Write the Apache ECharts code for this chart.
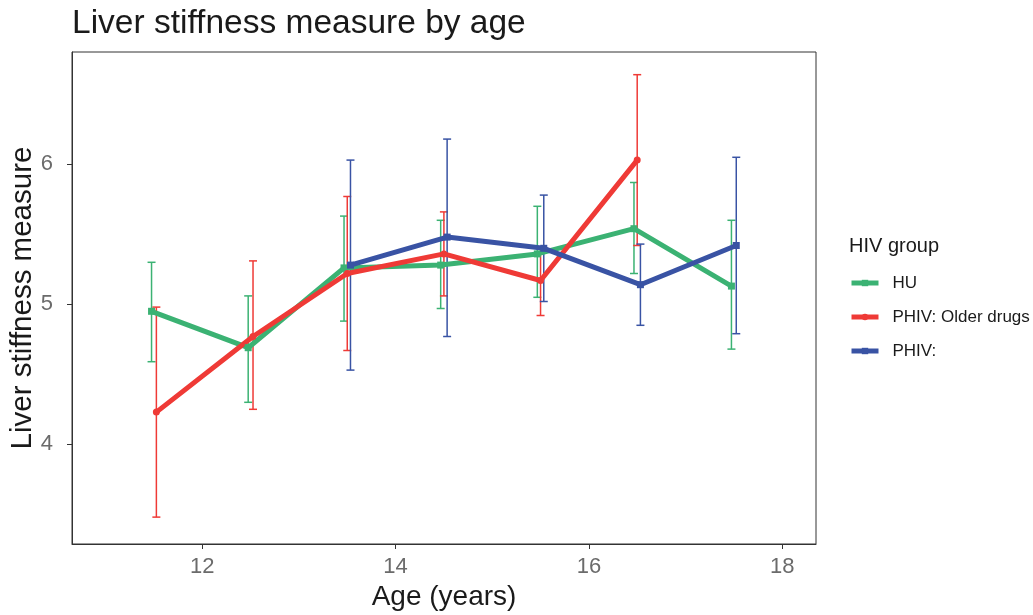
<!DOCTYPE html>
<html>
<head>
<meta charset="utf-8">
<script src="https://cdn.jsdelivr.net/npm/echarts@6/dist/echarts.min.js"></script>
<style>
html,body{margin:0;padding:0;background:#fff;}
#chart{width:1033px;height:615px;}
</style>
</head>
<body>
<div id="chart"></div>
<script>
// ---- Data ----
const ages = [11.5, 12.5, 13.5, 14.5, 15.5, 16.5, 17.5];
const groupNames = ['HU', 'PHIV: Older drugs', 'PHIV:'];
const huMean   = [4.95, 4.69, 5.26, 5.28, 5.36, 5.54, 5.13];
const huLow    = [4.59, 4.30, 4.88, 4.97, 5.05, 5.22, 4.68];
const huHigh   = [5.30, 5.06, 5.63, 5.60, 5.70, 5.87, 5.60];
const oldMean  = [4.23, 4.77, 5.22, 5.36, 5.17, 6.03, null];
const oldLow   = [3.48, 4.25, 4.67, 5.06, 4.92, 5.42, null];
const oldHigh  = [4.98, 5.31, 5.77, 5.66, 5.40, 6.64, null];
const phivMean = [null, null, 5.28, 5.48, 5.40, 5.14, 5.42];
const phivLow  = [null, null, 4.53, 4.77, 5.02, 4.85, 4.79];
const phivHigh = [null, null, 6.03, 6.18, 5.78, 5.43, 6.05];
const xTicks = [12, 14, 16, 18];
const yTicks = [4, 5, 6];

const colors = ['#3BB273', '#EF3A36', '#3953A4'];
const symbols = ['rect', 'circle', 'rect'];
const means = [huMean, oldMean, phivMean];
const lows = [huLow, oldLow, phivLow];
const highs = [huHigh, oldHigh, phivHigh];

// position dodge (width 0.1) like the original
const dodgeWidth = 0.1;
function dodgedX(gi, ai) {
  const present = [];
  for (let g = 0; g < means.length; g++) if (means[g][ai] != null) present.push(g);
  const n = present.length;
  const k = present.indexOf(gi);
  return ages[ai] + (k - (n - 1) / 2) * dodgeWidth / n;
}

const FONT = 'Liberation Sans, Arial, sans-serif';
const series = [];
// error bars first
for (let g = 0; g < 3; g++) {
  const data = [];
  ages.forEach((a, i) => {
    if (means[g][i] != null) data.push([dodgedX(g, i), lows[g][i], highs[g][i]]);
  });
  series.push({
    type: 'custom',
    name: 'errorbar ' + groupNames[g],
    data: data,
    z: 2,
    silent: true,
    itemStyle: {color: colors[g]},
    encode: {x: 0, y: [1, 2]},
    renderItem: function (params, api) {
      const x = api.value(0);
      const lo = api.coord([x, api.value(1)]);
      const hi = api.coord([x, api.value(2)]);
      const hw = 4;
      const st = {stroke: colors[g], lineWidth: 1.5};
      return {
        type: 'group',
        children: [
          {type: 'line', shape: {x1: lo[0], y1: lo[1], x2: hi[0], y2: hi[1]}, style: st},
          {type: 'line', shape: {x1: lo[0] - hw, y1: lo[1], x2: lo[0] + hw, y2: lo[1]}, style: st},
          {type: 'line', shape: {x1: hi[0] - hw, y1: hi[1], x2: hi[0] + hw, y2: hi[1]}, style: st}
        ]
      };
    }
  });
}
for (let g = 0; g < 3; g++) {
  const data = [];
  ages.forEach((a, i) => {
    if (means[g][i] != null) data.push([dodgedX(g, i), means[g][i]]);
  });
  series.push({
    type: 'line',
    name: groupNames[g],
    data: data,
    z: 3,
    symbol: symbols[g],
    symbolSize: 7,
    showSymbol: true,
    lineStyle: {color: colors[g], width: 5},
    itemStyle: {color: colors[g]},
    emphasis: {disabled: true},
    animation: false
  });
}

const chart = echarts.init(document.getElementById('chart'), null, {renderer: 'canvas'});
chart.setOption({
  animation: false,
  backgroundColor: '#ffffff',
  title: [
    {text: 'Liver stiffness measure by age', left: 67, top: 2,
     textStyle: {fontFamily: FONT, fontSize: 33.5, fontWeight: 'normal', color: '#1a1a1a'}},
    {text: 'HIV group', left: 844, top: 231,
     textStyle: {fontFamily: FONT, fontSize: 20, fontWeight: 'normal', color: '#1a1a1a'}}
  ],
  legend: {
    data: groupNames.map((n) => ({name: n})),
    orient: 'vertical',
    left: 844,
    top: 268,
    itemWidth: 27,
    itemHeight: 8,
    itemGap: 14,
    lineStyle: {width: 5},
    textStyle: {fontFamily: FONT, fontSize: 17, color: '#1a1a1a', lineHeight: 20, padding: [0, 0, 0, 9]},
    selectedMode: false
  },
  grid: {left: 72, right: 217, top: 52, bottom: 71, outerBoundsMode: 'none', show: true, borderColor: '#333333', borderWidth: 1, backgroundColor: 'transparent'},
  xAxis: {
    type: 'value',
    min: 10.652,
    max: 18.35,
    name: 'Age (years)',
    nameLocation: 'middle',
    nameGap: 38,
    nameTextStyle: {fontFamily: FONT, fontSize: 28, color: '#1a1a1a'},
    axisLine: {show: true, onZero: false, lineStyle: {color: '#333333', width: 1}},
    axisTick: {show: true, length: 5, customValues: xTicks, lineStyle: {color: '#333333'}},
    axisLabel: {customValues: xTicks, fontFamily: FONT, fontSize: 22, color: '#6b6b6b', margin: 12},
    splitLine: {show: false}
  },
  yAxis: {
    type: 'value',
    min: 3.288,
    max: 6.802,
    name: 'Liver stiffness measure',
    nameLocation: 'middle',
    nameGap: 34,
    nameMoveOverlap: false,
    nameTextStyle: {fontFamily: FONT, fontSize: 29.5, color: '#1a1a1a'},
    axisLine: {show: true, onZero: false, lineStyle: {color: '#333333', width: 1}},
    axisTick: {show: true, length: 5, customValues: yTicks, lineStyle: {color: '#333333'}},
    axisLabel: {customValues: yTicks, fontFamily: FONT, fontSize: 22, color: '#6b6b6b', margin: 19},
    splitLine: {show: false}
  },
  series: series
});
</script>
</body>
</html>
